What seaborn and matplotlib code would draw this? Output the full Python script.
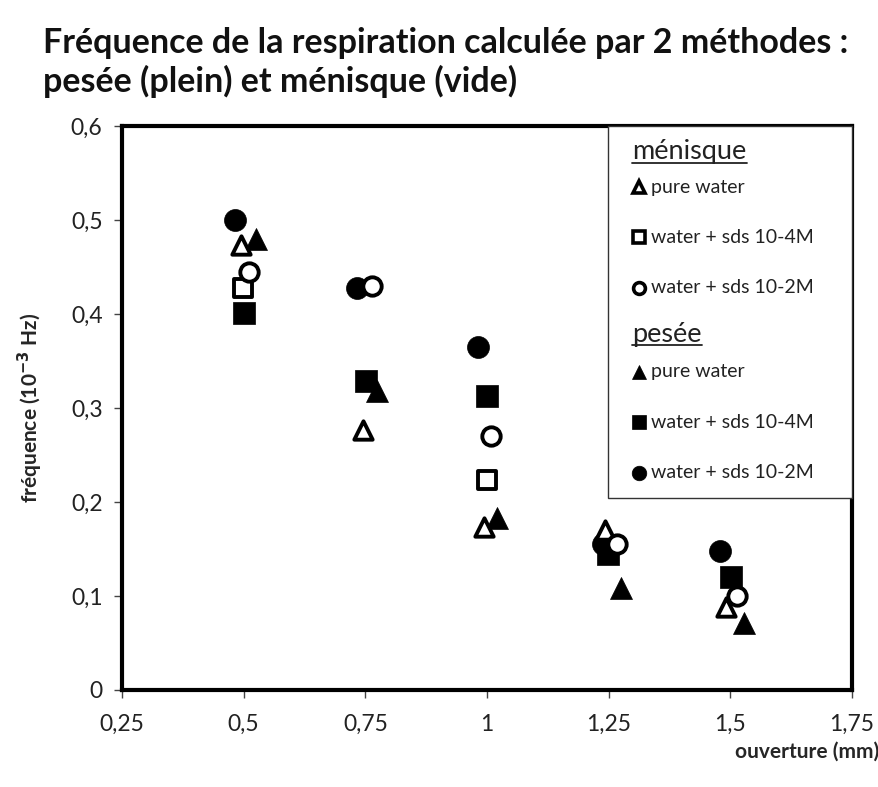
import matplotlib
matplotlib.use("Agg")
import matplotlib.pyplot as plt
from matplotlib.lines import Line2D
from matplotlib.patches import Rectangle
import seaborn as sns
import pandas as pd

# Measurements: opening (mm) and breathing frequency (1e-3 Hz)
# "pesée" (weighing) = filled markers, "ménisque" = open markers
pesee_pure_x = [0.525, 0.774, 1.02, 1.275, 1.528]
pesee_pure_y = [0.480, 0.318, 0.183, 0.108, 0.071]
pesee_sds4_x = [0.500, 0.751, 1.000, 1.249, 1.501]
pesee_sds4_y = [0.401, 0.329, 0.313, 0.145, 0.120]
pesee_sds2_x = [0.482, 0.733, 0.981, 1.238, 1.479]
pesee_sds2_y = [0.500, 0.428, 0.365, 0.155, 0.148]

menisque_pure_x = [0.495, 0.745, 0.994, 1.242, 1.491]
menisque_pure_y = [0.473, 0.277, 0.173, 0.170, 0.088]
menisque_sds4_x = [0.498, 1.000]
menisque_sds4_y = [0.428, 0.223]
menisque_sds2_x = [0.510, 0.764, 1.008, 1.267, 1.514]
menisque_sds2_y = [0.445, 0.430, 0.270, 0.155, 0.100]

series_labels = ["pure water", "water + sds 10-4M", "water + sds 10-2M"]
x_ticks = [0.25, 0.5, 0.75, 1.0, 1.25, 1.5, 1.75]
x_tick_labels = ["0,25", "0,5", "0,75", "1", "1,25", "1,5", "1,75"]
y_ticks = [0, 0.1, 0.2, 0.3, 0.4, 0.5, 0.6]
y_tick_labels = ["0", "0,1", "0,2", "0,3", "0,4", "0,5", "0,6"]

rows = []
for method, sets in [
    ("pesée", [(pesee_pure_x, pesee_pure_y), (pesee_sds4_x, pesee_sds4_y), (pesee_sds2_x, pesee_sds2_y)]),
    ("ménisque", [(menisque_pure_x, menisque_pure_y), (menisque_sds4_x, menisque_sds4_y),
                  (menisque_sds2_x, menisque_sds2_y)]),
]:
    for lab, (xs, ys) in zip(series_labels, sets):
        for xv, yv in zip(xs, ys):
            rows.append({"ouverture": xv, "frequence": yv, "methode": method, "solution": lab})
df = pd.DataFrame(rows)

sns.set_theme(style="white")
plt.rcParams["font.family"] = ["Lato", "DejaVu Sans"]

fig = plt.figure(figsize=(8.79, 7.87), dpi=100)
ax = fig.add_axes([0.1388, 0.1233, 0.8305, 0.7166])

markers = {"pure water": "^", "water + sds 10-4M": "s", "water + sds 10-2M": "o"}
sizes = {"pure water": 250, "water + sds 10-4M": 235, "water + sds 10-2M": 250}

for method in ["ménisque", "pesée"]:
    for lab in series_labels:
        sub = df[(df.methode == method) & (df.solution == lab)]
        if method == "pesée":
            sns.scatterplot(data=sub, x="ouverture", y="frequence", ax=ax,
                            marker=markers[lab], s=sizes[lab], color="black",
                            edgecolor="black", linewidth=0.5, legend=False, zorder=3)
        else:
            sns.scatterplot(data=sub, x="ouverture", y="frequence", ax=ax,
                            marker=markers[lab], s=sizes[lab] * 0.7, facecolor="white",
                            edgecolor="black", linewidth=2.8, legend=False, zorder=4)

ax.set_xlim(0.25, 1.75)
ax.set_ylim(0, 0.6)
ax.set_xticks(x_ticks)
ax.set_xticklabels(x_tick_labels, fontsize=16.5, color="#222222")
ax.set_yticks(y_ticks)
ax.set_yticklabels(y_tick_labels, fontsize=16.5, color="#222222")
ax.tick_params(axis="both", direction="out", length=6, width=1, color="#444444",
               bottom=True, left=True)
ax.tick_params(axis="x", pad=11)
ax.tick_params(axis="y", pad=8)
for sp in ax.spines.values():
    sp.set_visible(True)
    sp.set_linewidth(3)
    sp.set_color("black")

ax.set_xlabel("ouverture (mm)", fontsize=15, fontweight="bold", labelpad=0)
ax.xaxis.set_label_coords(1.037, -0.092, transform=ax.transAxes)
ax.xaxis.label.set_horizontalalignment("right")
ax.set_ylabel("fréquence (10$^{\\mathbf{-3}}$ Hz)", fontsize=15, fontweight="bold")
ax.yaxis.set_label_coords(-0.106, 0.5)

fig.text(0.049, 0.966, "Fréquence de la respiration calculée par 2 méthodes :\npesée (plein) et ménisque (vide)",
         fontsize=24.5, fontweight="bold", ha="left", va="top", linespacing=1.22, color="#111111")

# Legend panel with two underlined groups
box_x0, box_y0 = 0.666, 0.340
ax.add_patch(Rectangle((box_x0, box_y0), 1.0 - box_x0, 1.0 - box_y0, transform=ax.transAxes,
                       facecolor="white", edgecolor="#333333", linewidth=1.0, zorder=5, clip_on=False))

def heading(text, y):
    t = ax.text(0.699, y, text, transform=ax.transAxes, fontsize=19.5, ha="left", va="center",
                color="#222222", zorder=6)
    fig.canvas.draw()
    bb = t.get_window_extent().transformed(ax.transAxes.inverted())
    ax.add_line(Line2D([bb.x0, bb.x1], [bb.y0 + 0.003, bb.y0 + 0.003], transform=ax.transAxes,
                       color="#222222", linewidth=1.3, zorder=6))

def entry(lab, y, filled):
    ax.add_line(Line2D([0.708], [y], transform=ax.transAxes, marker=markers[lab],
                       markersize=10.5 if filled else 8.5,
                       markerfacecolor="black" if filled else "white", markeredgecolor="black",
                       markeredgewidth=0.5 if filled else 2.6, linestyle="none", zorder=6,
                       clip_on=False))
    ax.text(0.725, y, lab, transform=ax.transAxes, fontsize=14, ha="left", va="center",
            color="#222222", zorder=6)

heading("ménisque", 0.954)
for lab, y in zip(series_labels, [0.891, 0.803, 0.713]):
    entry(lab, y, False)
heading("pesée", 0.630)
for lab, y in zip(series_labels, [0.564, 0.475, 0.385]):
    entry(lab, y, True)

fig.savefig("out.png", dpi=100, facecolor="white")
